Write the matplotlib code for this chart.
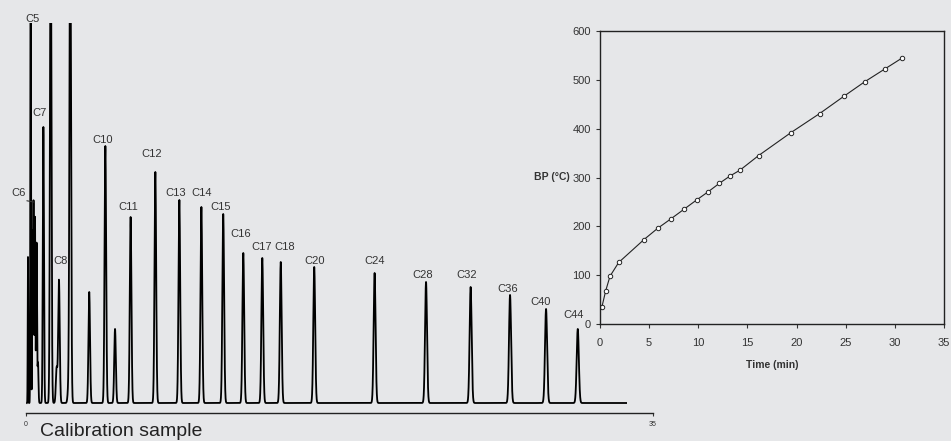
import numpy as np
import matplotlib.pyplot as plt

plt.rcParams['font.family'] = ['Liberation Sans', 'DejaVu Sans']

# クロマトグラムのピーク（保持時間[min], ピーク高さ）
peak_time = [0.11, 0.26, 0.36, 0.42, 0.50, 0.59, 0.67, 0.97, 1.38, 1.71, 1.84,
             2.36, 2.47, 3.53, 4.43, 4.97, 5.84, 7.22, 8.56, 9.79, 11.01, 12.13,
             13.19, 14.22, 16.09, 19.46, 22.33, 24.82, 27.02, 29.03, 30.80]
peak_height = [146, 500, 170, 201, 186, 160, 40, 276, 500, 35, 123,
               12, 500, 111, 257, 74, 186, 231, 203, 196, 189, 150,
               145, 141, 136, 130, 121, 116, 108, 94, 74]

# ラベル（名前, 文字位置）
label_names = ["C5", "C7", "C8", "C10", "C11", "C12", "C13", "C14", "C15", "C16",
               "C17", "C18", "C20", "C24", "C28", "C32", "C36", "C40", "C44"]
label_t = [0.39, 0.78, 1.95, 4.30, 5.69, 7.03, 8.37, 9.82, 10.89, 12.00,
           13.17, 14.46, 16.13, 19.48, 22.14, 24.62, 26.91, 28.75, 30.59]
label_h = [384, 290, 142, 263, 196, 249, 210, 210, 196, 169,
           156, 156, 142, 142, 128, 128, 114, 101, 88]

# 沸点曲線
bp_time = [0.20, 0.58, 1.02, 1.90, 4.48, 5.87, 7.26, 8.58, 9.83, 11.02,
           12.14, 13.22, 14.24, 16.14, 19.43, 22.35, 24.79, 26.93, 28.96, 30.76]
bp_temp = [35.5, 68, 98, 126, 173, 196, 216, 235.5, 254, 271,
           288, 303, 315, 345, 392, 431, 466, 496, 522, 545]

bg = '#e6e7e9'
fig = plt.figure(figsize=(9.51, 4.41), dpi=100, facecolor=bg)

# ---- クロマトグラム ----
ax = fig.add_axes([26/951, 28/441, 627/951, 390/441])
ax.set_facecolor('none')
t = np.arange(0.05, 33.5, 0.002)
sig = np.zeros_like(t)
for pt, ph in zip(peak_time, peak_height):
    #初めの方のピークは細く
    s = min(0.012 + 0.02 * pt, 0.042) + 0.0006 * pt
    sig += ph * np.exp(-0.5 * ((t - pt) / s) ** 2)
ax.plot(t, sig, color='black', lw=1.3)
ax.set_xlim(0, 35)
ax.set_ylim(-10, 380)
for sp in ['top', 'right', 'left']:
    ax.spines[sp].set_visible(False)
ax.spines['bottom'].set_color('#222222')
ax.spines['bottom'].set_linewidth(1.0)
ax.set_yticks([])
ax.set_xticks([0, 35])
ax.tick_params(axis='x', length=2, width=0.8, labelsize=5, pad=4, colors='#333333')

for name, lt, lh in zip(label_names, label_t, label_h):
    ax.text(lt, lh, name, fontsize=8, ha='center', va='center', color='#333333')
# C6は引出し線付き
ax.annotate("C6", xy=(peak_time[3], peak_height[3]), xytext=(-0.39, 210),
            fontsize=8, ha='center', va='center', color='#333333',
            arrowprops=dict(arrowstyle='-', color='#333333', lw=0.8, relpos=(0, 0),
                            shrinkA=0, shrinkB=0), annotation_clip=False)

fig.text(40/951, 1 - 431/441, "Calibration sample", fontsize=14, ha='left', va='center',
         color='#222222')

# ---- 沸点曲線（右上） ----
ax2 = fig.add_axes([600/951, 117/441, 344/951, 293/441])
ax2.set_facecolor('none')
ax2.plot(bp_time, bp_temp, color='#222222', lw=0.8, marker='o', markersize=3.2,
         markerfacecolor='white', markeredgecolor='#222222', markeredgewidth=0.7)
ax2.set_xlim(0, 35)
ax2.set_ylim(0, 600)
ax2.set_xticks(range(0, 36, 5))
ax2.set_yticks(range(0, 601, 100))
for sp in ax2.spines.values():
    sp.set_color('#222222')
    sp.set_linewidth(1.0)
ax2.tick_params(axis='both', length=3, width=0.8, labelsize=8, colors='#333333')
ax2.tick_params(axis='x', pad=7)
ax2.tick_params(axis='y', pad=3.5)
ax2.set_xlabel("Time (min)", fontsize=7.5, fontweight='bold', color='#333333')
ax2.xaxis.set_label_coords(0.5, -0.123)
ax2.set_ylabel("BP (°C)", fontsize=7.5, fontweight='bold', color='#333333',
               rotation=0, ha='right', va='center')
ax2.yaxis.set_label_coords(-0.087, 0.5)

plt.savefig("out.png", dpi=100, facecolor=bg)
